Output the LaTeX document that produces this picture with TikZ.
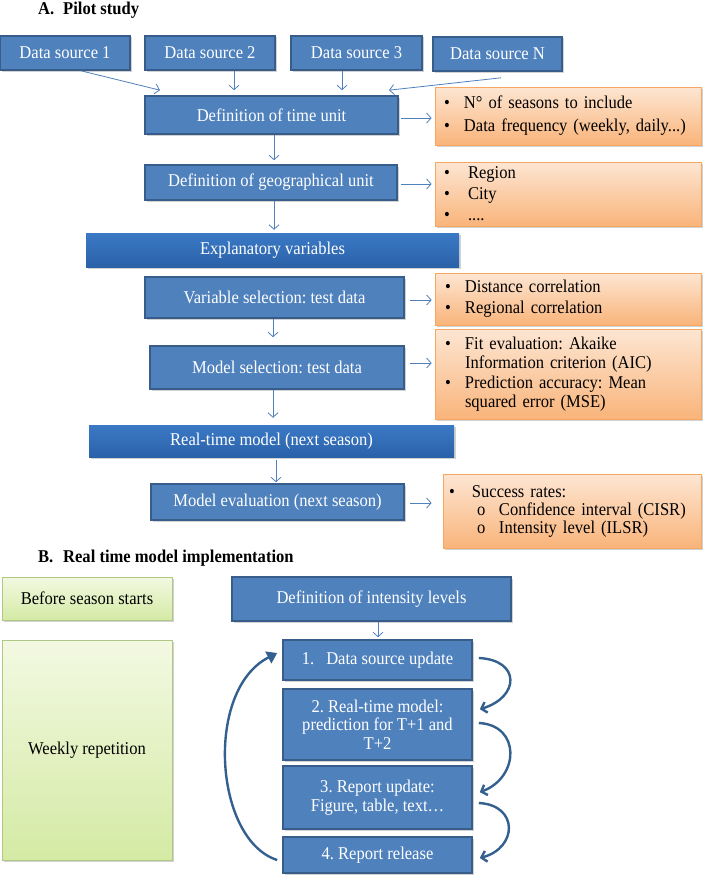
\documentclass[tikz,border=0pt]{standalone}
\usepackage{fontspec}
\setmainfont[FakeStretch=0.92]{Liberation Serif}
\frenchspacing
\usetikzlibrary{arrows.meta,shadows}
\definecolor{bfill}{HTML}{4F81BD}
\definecolor{bdraw}{HTML}{385D8A}
\definecolor{bartop}{HTML}{3B79C6}
\definecolor{barbot}{HTML}{2A62A8}
\definecolor{otop}{HTML}{FDE6D3}
\definecolor{obot}{HTML}{F9B47A}
\definecolor{odraw}{HTML}{F6A863}
\definecolor{gtop}{HTML}{F3F9E2}
\definecolor{gbot}{HTML}{D4EAA4}
\definecolor{gdraw}{HTML}{AFC884}
\definecolor{arrblue}{HTML}{4F81BD}
\definecolor{curvblue}{HTML}{34608F}
\newcommand{\obul}[1]{\makebox[20pt][l]{\textbullet}#1}
\newcommand{\osub}[1]{\hspace*{28pt}\makebox[22pt][l]{o}#1}
\tikzset{
 shad/.style={drop shadow={opacity=0.35,shadow xshift=1.5pt,shadow yshift=-1.5pt}},
 bbox/.style={shad, rectangle, fill=bfill, draw=bdraw, line width=1.6pt, text=white, inner sep=0pt, align=center},
 bar/.style={shad, rectangle, top color=bartop, bottom color=barbot, draw=none, text=white, inner sep=0pt},
 obox/.style={shad, rectangle, top color=otop, bottom color=obot, draw=odraw, line width=0.8pt, inner ysep=0pt, align=left},
 gbox/.style={shad, rectangle, top color=gtop, bottom color=gbot, draw=gdraw, line width=0.8pt, inner sep=0pt, align=center},
 arr/.style={draw=arrblue, line width=0.8pt, -{Straight Barb[length=4.5pt,width=10pt]}},
 curv/.style={draw=curvblue, line width=2.4pt, -{Straight Barb[length=5pt,width=11pt]}},
 bigarr/.style={draw=curvblue, line width=2.4pt, -{Triangle[length=10pt,width=13pt]}},
 head/.style={anchor=west, font=\fontsize{18}{20}\selectfont\bfseries, inner sep=0pt},
}
\begin{document}
\begin{tikzpicture}[x=1pt,y=-1pt,font=\fontsize{18}{20}\selectfont]
\useasboundingbox (0,0) rectangle (705,875);
\fill[white] (0,0) rectangle (705,875);

% ---------- Part A ----------
\node[head] (ha) at (38,10) {\makebox[25pt][l]{A.}Pilot study};

\node[bbox, minimum width=130pt, minimum height=34pt] (ds1) at (65,53) {Data source 1};
\node[bbox, minimum width=130pt, minimum height=34pt] (ds2) at (210,53) {Data source 2};
\node[bbox, minimum width=131pt, minimum height=34pt] (ds3) at (356.5,53) {Data source 3};
\node[bbox, minimum width=129pt, minimum height=34pt] (dsN) at (497.5,54) {Data source N};

\node[bbox, minimum width=253pt, minimum height=38pt] (time) at (271.5,115) {Definition of time unit};
\node[obox, minimum width=266pt, minimum height=58pt, text width=248pt, inner xsep=9pt,
      font=\fontsize{18}{23}\selectfont] (o1) at (568,116)
      {\obul{N° of seasons to include}\\\obul{Data frequency (weekly, daily...)}};

\node[bbox, minimum width=252pt, minimum height=35pt] (geo) at (271,182.5) {Definition of geographical unit};
\node[obox, minimum width=266pt, minimum height=64pt, text width=248pt, inner xsep=9pt,
      font=\fontsize{18}{21}\selectfont] (o2) at (568,194)
      {\obul{\hspace{4pt}Region}\\\obul{\hspace{4pt}City}\\\obul{\hspace{4pt}....}};

\node[bar, minimum width=373pt, minimum height=34pt] (expl) at (272.5,250) {Explanatory variables};

\node[bbox, minimum width=259pt, minimum height=41pt] (vs) at (274.5,297.5) {Variable selection: test data};
\node[obox, minimum width=266pt, minimum height=52pt, text width=246pt, inner xsep=10pt,
      font=\fontsize{18}{21}\selectfont] (o3) at (568,299)
      {\obul{Distance correlation}\\\obul{Regional correlation}};

\node[bbox, minimum width=254pt, minimum height=43pt] (ms) at (277,367.5) {Model selection: test data};
\node[obox, minimum width=266pt, minimum height=90pt, text width=246pt, inner xsep=10pt,
      font=\fontsize{18}{19.5}\selectfont] (o4) at (568,374)
      {\obul{Fit evaluation: Akaike}\\\hspace*{20pt}Information criterion (AIC)\\\obul{Prediction accuracy: Mean}\\\hspace*{20pt}squared error (MSE)};

\node[bar, minimum width=365pt, minimum height=32pt] (rt) at (271.5,441) {Real-time model (next season)};

\node[bbox, minimum width=253pt, minimum height=36pt] (me) at (277.5,502) {Model evaluation (next season)};
\node[obox, minimum width=258pt, minimum height=74pt, text width=246pt, inner xsep=6pt,
      font=\fontsize{18}{18}\selectfont] (o5) at (572,511)
      {\makebox[23pt][l]{\textbullet}Success rates:\\\osub{Confidence interval (CISR)}\\\osub{Intensity level (ILSR)}};

\draw[arr] ([xshift=16pt]ds1.south) -- ([xshift=-111.5pt,yshift=5pt]time.north);
\draw[arr] ([xshift=24pt]ds2.south) -- ([xshift=-37.5pt,yshift=5pt]time.north);
\draw[arr] ([xshift=-14.5pt]ds3.south) -- ([xshift=70.5pt,yshift=5pt]time.north);
\draw[arr] ([xshift=3.5pt,yshift=-6pt]dsN.south) -- ([xshift=117.5pt,yshift=5pt]time.north);
\draw[arr] ([xshift=2pt,yshift=-3pt]time.east) -- ([xshift=-3pt,yshift=-2pt]o1.west);
\draw[arr] ([xshift=2.5pt]time.south) -- ([xshift=3pt,yshift=4pt]geo.north);
\draw[arr] ([xshift=3pt,yshift=-1.5pt]geo.east) -- ([xshift=-3pt,yshift=10pt]o2.west);
\draw[arr] ([xshift=3pt]geo.south) -- ([xshift=1.5pt,yshift=3pt]expl.north);
\draw[arr] ([xshift=5pt,yshift=-2.5pt]vs.east) -- ([xshift=-3pt,yshift=-1pt]o3.west);
\draw[arr] ([xshift=-1.5pt]vs.south) -- ([xshift=-4pt,yshift=8pt]ms.north);
\draw[arr] ([xshift=5pt,yshift=4.5pt]ms.east) -- ([xshift=-3pt,yshift=11pt]o4.west);
\draw[arr] ([xshift=-4pt]ms.south) -- ([xshift=1.5pt,yshift=7pt]rt.north);
\draw[arr] ([xshift=4.5pt,yshift=-3pt]rt.south) -- ([xshift=-1.5pt,yshift=1pt]me.north);
\draw[arr] ([xshift=5pt,yshift=-1pt]me.east) -- ([xshift=-11pt,yshift=8pt]o5.west);

% ---------- Part B ----------
\node[head] (hb) at (38,558) {\makebox[25pt][l]{B.}Real time model implementation};

\node[gbox, minimum width=170pt, minimum height=43pt] (g1) at (87,598.5) {Before season starts};
\node[gbox, minimum width=170pt, minimum height=220pt] (g2) at (87,750) {Weekly repetition};

\node[bbox, minimum width=279pt, minimum height=44pt] (intens) at (371.5,599) {Definition of intensity levels};
\node[bbox, minimum width=189pt, minimum height=40pt] (b1) at (377.5,660) {1.\hspace{12pt}Data source update};
\node[bbox, minimum width=189pt, minimum height=71pt, font=\fontsize{18}{18.5}\selectfont] (b2) at (377.5,724.5)
      {2. Real-time model:\\prediction for T+1 and\\T+2};
\node[bbox, minimum width=189pt, minimum height=63pt, font=\fontsize{18}{19}\selectfont] (b3) at (377.5,797.5)
      {3. Report update:\\Figure, table, text…};
\node[bbox, minimum width=189pt, minimum height=36pt] (b4) at (377.5,855) {4. Report release};

\draw[arr] ([xshift=6.5pt]intens.south) -- ([xshift=0.5pt,yshift=2pt]b1.north);

\draw[curv] ([xshift=6pt,yshift=2pt]b1.east) .. controls +(42,2) and +(40,-12) .. ([xshift=7pt,yshift=-21pt]b2.north east);
\draw[curv] ([xshift=6pt,yshift=1.5pt]b2.east) .. controls +(42,2) and +(40,-15) .. ([xshift=7pt,yshift=-27pt]b3.north east);
\draw[curv] ([xshift=6pt,yshift=-5.5pt]b3.east) .. controls +(40,2) and +(38,-10) .. ([xshift=7pt,yshift=-3pt]b4.east);
\draw[bigarr] ([xshift=-5pt,yshift=-5pt]b4.west) .. controls +(-63,-20) and +(-73,37) .. ([xshift=-5pt,yshift=7pt]b1.west);
\end{tikzpicture}
\end{document}
